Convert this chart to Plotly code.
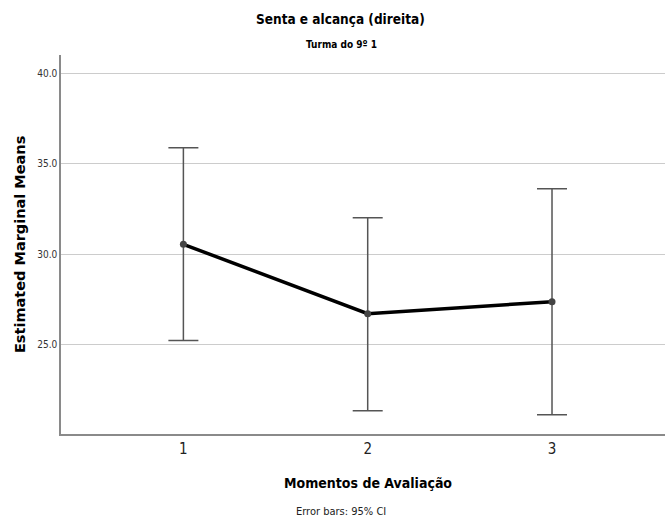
import plotly.graph_objects as go

moments = [1, 2, 3]
means = [30.54, 26.71, 27.37]
ci_upper = [35.88, 32.01, 33.61]
ci_lower = [25.22, 21.35, 21.13]
y_ticks = [25.0, 30.0, 35.0, 40.0]
y_tick_labels = ["25.0", "30.0", "35.0", "40.0"]

err_plus = [u - m for u, m in zip(ci_upper, means)]
err_minus = [m - l for m, l in zip(means, ci_lower)]

NARROW = "DejaVu Sans Condensed, Liberation Sans Narrow, sans-serif"

fig = go.Figure()
fig.add_trace(go.Scatter(
    x=moments, y=means, mode="lines+markers",
    line=dict(color="black", width=3.5),
    marker=dict(color="#444444", size=7),
    error_y=dict(type="data", symmetric=False, array=err_plus, arrayminus=err_minus,
                 color="#555555", thickness=1.5, width=15),
    showlegend=False, hoverinfo="skip",
))

def note(text, x, y, size, family=NARROW, color="black", angle=0):
    return dict(text=text, xref="paper", yref="paper", x=x, y=y, showarrow=False,
                xanchor="center", yanchor="middle", textangle=angle,
                font=dict(family=family, size=size, color=color))

fig.update_layout(
    width=665, height=522,
    margin=dict(l=61, r=0, t=55, b=88),
    plot_bgcolor="white", paper_bgcolor="white",
    xaxis=dict(range=[0.336, 3.613], tickvals=moments, ticktext=[str(m) for m in moments],
               showgrid=False, zeroline=False, showline=True, linecolor="#8a8a8a", linewidth=1.5,
               ticks="", tickfont=dict(family=NARROW, size=15, color="#222222")),
    yaxis=dict(range=[20.06, 41.0], tickvals=y_ticks, ticktext=y_tick_labels,
               showgrid=True, gridcolor="#cccccc", gridwidth=1.2, zeroline=False,
               showline=True, linecolor="#8a8a8a", linewidth=1.5, ticks="",
               tickfont=dict(family=NARROW, size=10, color="#333333")),
    annotations=[
        note("<b>Senta e alcança (direita)</b>", 0.462, 1.095, 13.5),
        note("<b>Turma do 9º 1</b>", 0.464, 1.029, 10),
        note("<b>Momentos de Avaliação</b>", 0.508, -0.129, 14),
        note("Error bars: 95% CI", 0.463, -0.204, 11, color="#222222"),
        note("<b>Estimated Marginal Means</b>", -0.068, 0.501, 14.5,
             family="DejaVu Sans, Verdana, sans-serif", angle=-90),
    ],
)

fig.write_html("out.html", post_script="document.body.style.margin='0';",
               config={"displayModeBar": False})
